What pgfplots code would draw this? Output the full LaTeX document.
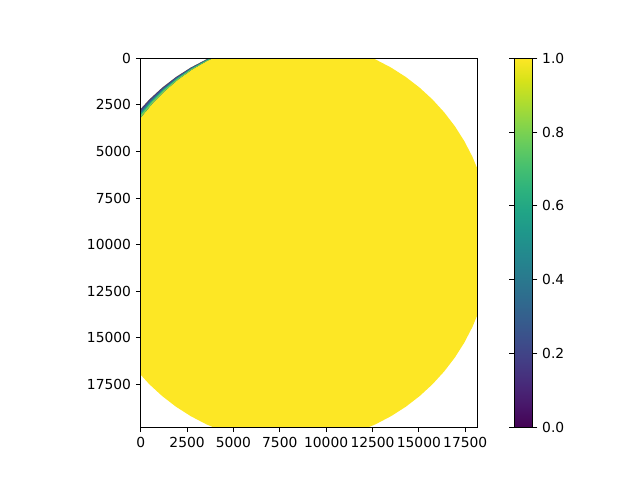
\documentclass[border=0pt]{standalone}
\usepackage{fontspec}
\setmainfont{DejaVu Sans}
\usepackage{pgfplots}
\pgfplotsset{compat=1.18}
\definecolor{vyellow}{HTML}{FDE725}
\definecolor{vdark}{HTML}{443A83}
\definecolor{vblue}{HTML}{31688E}
\definecolor{vteal}{HTML}{22A884}
\definecolor{vgreen}{HTML}{7AD151}

\begin{document}
\begin{tikzpicture}
\path (0,0) rectangle (6.4in,4.8in);
\begin{axis}[
    at={(1.407in,0.527in)}, anchor=south west,
    scale only axis, width=3.366in, height=3.69in,
    xmin=0, xmax=18150, ymin=0, ymax=19800, y dir=reverse,
    xtick={0,2500,5000,7500,10000,12500,15000,17500},
    ytick={0,2500,5000,7500,10000,12500,15000,17500},
    scaled ticks=false,
    xtick pos=left, ytick pos=left,
    tick align=outside, major tick length=3.5pt,
    tick style={black, line width=0.8pt},
    axis line style={line width=0.8pt},
    /pgf/number format/1000 sep={},
    /pgf/number format/assume math mode=true,
    axis on top,
    colormap name=viridis,
    point meta min=0, point meta max=1,
    colorbar,
    colorbar style={
        at={(parent axis.north east)}, anchor=north west, xshift=0.25in,
        scale only axis, width=0.184in, height=3.69in,
        ytick={0,0.2,0.4,0.6,0.8,1},
        yticklabel style={/pgf/number format/fixed, /pgf/number format/fixed zerofill, /pgf/number format/precision=1},
        tick align=outside, major tick length=3.5pt,
        tick style={black, line width=0.8pt},
        axis line style={line width=0.8pt},
        /pgf/number format/assume math mode=true,
    },
]
% yellow disc (value 1)
\addplot[fill=vyellow, draw=none] coordinates {
(18900,9850)(18736,11725)(18532,12645)(18249,13544)(17888,14414)(17453,15250)
(16947,16045)(16373,16792)(15737,17487)(15042,18123)(14295,18697)(13500,19203)
(12664,19638)(11794,19999)(10895,20282)(9975,20486)(8100,20650)(6225,20486)
(4406,19999)(3536,19638)(2700,19203)(1905,18697)(1158,18123)(463,17487)
(-173,16792)(-747,16045)(-1253,15250)(-2049,13544)(-2536,11725)
(-2700,9850)(-2536,7975)(-2049,6156)(-1253,4450)(-747,3655)(-173,2908)
(463,2213)(1158,1577)(1905,1003)(2700,497)(3536,62)(4406,-299)(6225,-786)
(8100,-950)(9975,-786)(11794,-299)(12664,62)(13500,497)(14295,1003)
(15042,1577)(15737,2213)(16373,2908)(16947,3655)(17453,4450)(17888,5286)
(18249,6156)(18532,7055)(18736,7975)
} -- cycle;
% edge band, top left
\addplot[fill=vdark, draw=none] coordinates {
(-2049,6156)(-1253,4450)(-747,3655)(-173,2908)(463,2213)(1158,1577)(1905,1003)
(2700,497)(3536,62)(4406,-299)(5305,-582)
(4420,-261)(3570,135)(2760,601)(2003,1142)(1299,1746)(647,2397)(57,3101)
(-493,3833)(-976,4610)(-1748,6266)
} -- cycle;
\addplot[fill=vblue, draw=none] coordinates {
(-1974,6184)(-1184,4490)(-683,3700)(-115,2956)(509,2259)(1193,1619)(1930,1038)
(2715,523)(3544,80)(4410,-289)(5305,-582)
(4420,-261)(3570,135)(2760,601)(2003,1142)(1299,1746)(647,2397)(57,3101)
(-493,3833)(-976,4610)(-1748,6266)
} -- cycle;
\addplot[fill=vteal, draw=none] coordinates {
(-1898,6211)(-1114,4530)(-620,3744)(-58,3004)(555,2305)(1228,1661)(1954,1072)
(2730,549)(3553,98)(4413,-280)(5305,-582)
(4420,-261)(3570,135)(2760,601)(2003,1142)(1299,1746)(647,2397)(57,3101)
(-493,3833)(-976,4610)(-1748,6266)
} -- cycle;
\addplot[fill=vgreen, draw=none] coordinates {
(-1823,6238)(-1045,4570)(-557,3789)(0,3052)(601,2351)(1264,1704)(1979,1107)
(2745,575)(3561,116)(4417,-270)(5305,-582)
(4420,-261)(3570,135)(2760,601)(2003,1142)(1299,1746)(647,2397)(57,3101)
(-493,3833)(-976,4610)(-1748,6266)
} -- cycle;
\end{axis}
\end{tikzpicture}
\end{document}
